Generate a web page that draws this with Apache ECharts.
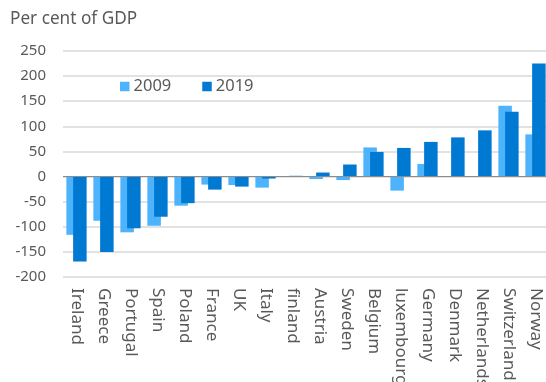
<!DOCTYPE html>
<html><head><meta charset="utf-8">
<script src="https://cdn.jsdelivr.net/npm/echarts@6/dist/echarts.min.js"></script>
<style>html,body{margin:0;padding:0;background:#fff}#c{width:546px;height:382px}</style>
</head><body><div id="c"></div>
<script>
const categories = ["Ireland","Greece","Portugal","Spain","Poland","France","UK","Italy","finland","Austria","Sweden","Belgium","luxembourg","Germany","Denmark","Netherlands","Switzerland","Norway"];
const values2009 = [-116,-88,-111,-98,-58,-16,-17,-22,0.5,-5,-7,58,-28,25,0,0,141,84];
const values2019 = [-169,-150,-103,-80,-53,-26,-20,-4,1.5,8,24,49,57,69,78,92,129,225];
const yTicks = {min:-200, max:250, interval:50};
const FONT = "Noto Sans";
const chart = echarts.init(document.getElementById('c'));
chart.setOption({
  animation:false,
  backgroundColor:'#fff',
  title:{text:'Per cent of GDP', left:10, top:11, padding:0, textStyle:{fontFamily:FONT,fontSize:17.2,fontWeight:'normal',color:'#595959'}},
  legend:{left:120, top:78, padding:0, itemWidth:9.5, itemHeight:9.5, itemGap:31, icon:'rect',
    textStyle:{fontFamily:FONT,fontSize:16.5,color:'#595959', padding:[0,0,0,-1]}, data:['2009','2019']},
  grid:{left:63, top:51, width:486, bottom:105, containLabel:false, outerBoundsMode:'none'},
  xAxis:{type:'category', data:categories, axisTick:{show:false}, axisLine:{show:false,onZero:false},
    axisLabel:{rotate:-90, interval:0, margin:11, fontFamily:FONT, fontSize:17, color:'#595959'}},
  yAxis:{type:'value', min:yTicks.min, max:yTicks.max, interval:yTicks.interval,
    axisLine:{show:false}, axisTick:{show:false},
    axisLabel:{margin:17, fontFamily:FONT, fontSize:15, color:'#595959'},
    splitLine:{lineStyle:{color:'#d9d9d9', width:1.5}}},
  series:[
    {name:'2009', type:'bar', data:values2009, barWidth:13.5, barGap:'-50%', itemStyle:{color:'#4db3fc'},
     markLine:{silent:true, symbol:'none', label:{show:false}, lineStyle:{color:'#8c8c8c', width:1, type:'solid'}, data:[{yAxis:0}], z:10}},
    {name:'2019', type:'bar', data:values2019, barWidth:13.5, barGap:'-50%', itemStyle:{color:'#0079d2'}}
  ]
});
</script></body></html>
